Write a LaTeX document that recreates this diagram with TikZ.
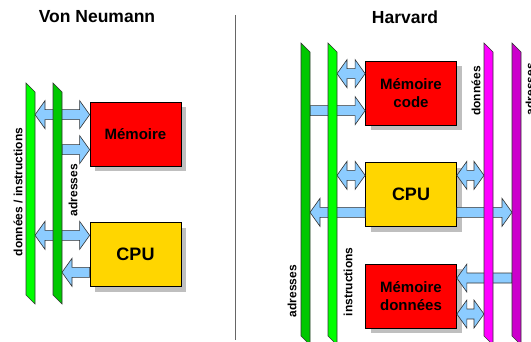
\documentclass[tikz,border=0pt]{standalone}
\usepackage{fontspec}
\setmainfont{Liberation Sans}
\usepackage{tikz}
\usetikzlibrary{positioning}
\usetikzlibrary{calc,shadows}
\definecolor{busgreen}{RGB}{0,255,0}
\definecolor{busdkgreen}{RGB}{0,200,0}
\definecolor{busmagenta}{RGB}{255,0,255}
\definecolor{buspurple}{RGB}{204,0,204}
\definecolor{memred}{RGB}{255,0,0}
\definecolor{cpugold}{RGB}{255,214,0}
\definecolor{arrowblue}{RGB}{140,204,255}
\tikzset{box/.style={draw=black,line width=0.7pt,minimum width=91pt,minimum height=64pt,inner sep=0pt,align=center,
           font=\bfseries\fontsize{15}{18}\selectfont,
           drop shadow={shadow xshift=5pt,shadow yshift=-5pt,fill=black!25,opacity=1}},
         cpu/.style={box,fill=cpugold,font=\bfseries\fontsize{18}{20}\selectfont},
         bus/.style={minimum width=9pt,inner sep=0pt,outer sep=0pt},
         busline/.style={draw=black!80,line width=0.6pt},
         blockarrow/.style={fill=arrowblue,draw=black!80,line width=0.6pt},
         lbl/.style={rotate=90,inner sep=0pt,font=\bfseries\fontsize{12}{12}\selectfont},
         title/.style={font=\bfseries\fontsize{17.5}{18}\selectfont},}

% bus bar with slanted ends, drawn over the node's frame
\newcommand{\drawbus}[2]{%
  \draw[busline,fill=#2] (#1.north west) -- ([yshift=-9pt]#1.north east) -- (#1.south east) -- ([yshift=9pt]#1.south west) -- cycle;}
% block arrow from #1 to #2
\newcommand{\onearrow}[2]{%
  \coordinate (ab) at ($(#2)!10pt!(#1)$);
  \filldraw[blockarrow] ($(#1)!5pt!-90:(#2)$) -- ($(ab)!5pt!-90:(#2)$) -- ($(ab)!14pt!-90:(#2)$) -- (#2)
    -- ($(ab)!14pt!90:(#2)$) -- ($(ab)!5pt!90:(#2)$) -- ($(#1)!5pt!90:(#2)$) -- cycle;}
% block arrow with both heads
\newcommand{\twoarrow}[2]{%
  \coordinate (ab1) at ($(#1)!10pt!(#2)$);
  \coordinate (ab2) at ($(#2)!10pt!(#1)$);
  \filldraw[blockarrow] (#1) -- ($(ab1)!14pt!90:(#2)$) -- ($(ab1)!5pt!90:(#2)$) -- ($(ab2)!5pt!-90:(#1)$)
    -- ($(ab2)!14pt!-90:(#1)$) -- (#2) -- ($(ab2)!14pt!90:(#1)$) -- ($(ab2)!5pt!90:(#1)$)
    -- ($(ab1)!5pt!-90:(#2)$) -- ($(ab1)!14pt!-90:(#2)$) -- cycle;}

\begin{document}
\begin{tikzpicture}[x=1pt,y=-1pt]
	\useasboundingbox (0,0) rectangle (531,342);

	\node[title] (tVN) at (97,17) {Von Neumann};
	\node[title] (tH) at (405,17) {Harvard};
	\draw[black!60,line width=0.8pt] (235,15) -- (235,340);

	% von Neumann
	\node[box,fill=memred] (memVN) at (135.5,134) {Mémoire};
	\node[cpu] (cpuVN) [below=56pt of memVN] {CPU};
	\node[bus,minimum height=221pt] (vA) at (30.5,193.5) {};
	\node[bus,minimum height=221pt] (vB) [right=18pt of vA] {};
	\node[lbl] (lDI) at (18,192) {données / instructions};
	\node[lbl] (lAV) at (73,190) {adresses};

	% Harvard
	\node[box,fill=memred] (memCode) at (411,93) {Mémoire\\code};
	\node[cpu] (cpuH) [below=37pt of memCode] {CPU};
	\node[box,fill=memred] (memData) [below=37pt of cpuH] {Mémoire\\données};
	\node[bus,minimum height=302pt] (hA) at (305.5,194) {};
	\node[bus,minimum height=302pt] (hB) [right=18pt of hA] {};
	\node[bus,minimum height=302pt] (hC) at (488.5,194) {};
	\node[bus,minimum height=302pt] (hD) [right=19pt of hC] {};
	\node[lbl] (lAH) at (292,291) {adresses};
	\node[lbl] (lI) at (348,282) {instructions};
	\node[lbl] (lD) at (476,91) {données};
	\node[lbl] (lAD) at (530,89) {adresses};

	% arrow ends
	\coordinate (p1) at (vA.east |- {$(memVN.north west)+(0,13)$});
	\coordinate (q1) at (memVN.west |- p1);
	\coordinate (p2) at (vB.east |- {$(memVN.north west)+(0,48)$});
	\coordinate (q2) at (memVN.west |- p2);
	\coordinate (p3) at (vA.east |- {$(cpuVN.north west)+(0,13)$});
	\coordinate (q3) at (cpuVN.west |- p3);
	\coordinate (p4) at (cpuVN.west |- {$(cpuVN.north west)+(0,50)$});
	\coordinate (q4) at (vB.east |- p4);
	\coordinate (p5) at (hB.east |- {$(memCode.north west)+(0,13)$});
	\coordinate (q5) at (memCode.west |- p5);
	\coordinate (p6) at (hA.east |- {$(memCode.north west)+(0,50)$});
	\coordinate (q6) at (memCode.west |- p6);
	\coordinate (p7) at (hB.east |- {$(cpuH.north west)+(0,13)$});
	\coordinate (q7) at (cpuH.west |- p7);
	\coordinate (p8) at (cpuH.east |- p7);
	\coordinate (q8) at (hC.west |- p7);
	\coordinate (p9) at (cpuH.west |- {$(cpuH.north west)+(0,50)$});
	\coordinate (q9) at (hA.east |- p9);
	\coordinate (p10) at (cpuH.east |- p9);
	\coordinate (q10) at (hD.west |- p9);
	\coordinate (p11) at (hD.west |- {$(memData.north west)+(0,14)$});
	\coordinate (q11) at (memData.east |- p11);
	\coordinate (p12) at (memData.east |- {$(memData.north west)+(0,50)$});
	\coordinate (q12) at (hC.west |- p12);

	\twoarrow{p1}{q1}
	\onearrow{p2}{q2}
	\twoarrow{p3}{q3}
	\onearrow{p4}{q4}
	\twoarrow{p5}{q5}
	\onearrow{p6}{q6}
	\twoarrow{p7}{q7}
	\twoarrow{p8}{q8}
	\onearrow{p9}{q9}
	\onearrow{p10}{q10}
	\onearrow{p11}{q11}
	\twoarrow{p12}{q12}

	% the buses go over the arrow shafts
	\drawbus{vA}{busgreen}
	\drawbus{vB}{busdkgreen}
	\drawbus{hA}{busdkgreen}
	\drawbus{hB}{busgreen}
	\drawbus{hC}{busmagenta}
	\drawbus{hD}{buspurple}
\end{tikzpicture}
\end{document}
